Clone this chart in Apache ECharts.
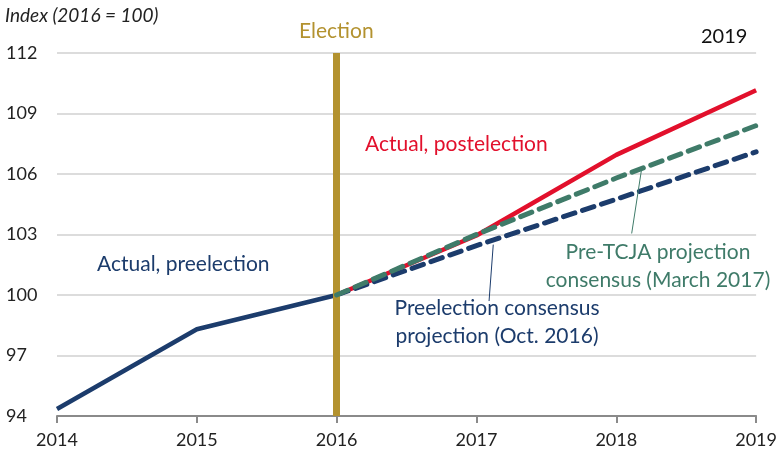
<!DOCTYPE html>
<html>
<head>
<meta charset="utf-8">
<script src="https://cdn.jsdelivr.net/npm/echarts@6/dist/echarts.min.js"></script>
<style>
  html, body { margin: 0; padding: 0; background: #fff; }
  #chart { width: 780px; height: 457px; }
</style>
</head>
<body>
<div id="chart"></div>
<script>
// years on the x axis
const years = [2014, 2015, 2016, 2017, 2018, 2019]
const yTicks = [94, 97, 100, 103, 106, 109, 112]

// index values (2016 = 100)
const actualPre = [94.35, 98.3, 100]
const actualPost = [100, 102.95, 106.95, 110.15]
const preTcja = [100, 103, 105.8, 108.4]
const preElection = [100, 102.45, 104.75, 107.1]

const electionYear = 2016

const navy = '#1c3c6c'
const red = '#e2102c'
const green = '#3f7b69'
const gold = '#b3922f'
const font = 'Lato, "Noto Sans", sans-serif'

const pairs = (xs, vals) => vals.map((v, i) => [xs[i], v])

// annotation text, positioned by its anchor point
const note = (text, x, y, color, size, align) => ({
  type: 'text',
  x: x,
  y: y,
  style: {
    text: text,
    fontFamily: font,
    fontSize: size,
    lineHeight: 28,
    fill: color,
    align: align || 'left',
    verticalAlign: 'top'
  }
})

const chart = echarts.init(document.getElementById('chart'))

chart.setOption({
  animation: false,
  textStyle: { fontFamily: font },
  grid: { left: 57, right: 22, top: 53, bottom: 41 },
  xAxis: {
    type: 'value',
    min: years[0],
    max: years[years.length - 1],
    interval: 1,
    axisLine: { lineStyle: { color: '#8a8a8a', width: 2 } },
    axisTick: { show: true, length: 7, lineStyle: { color: '#8a8a8a', width: 2 } },
    splitLine: { show: false },
    axisLabel: {
      color: '#222',
      fontSize: 18,
      margin: 15,
      formatter: v => String(v)
    }
  },
  yAxis: {
    type: 'value',
    min: yTicks[0],
    max: yTicks[yTicks.length - 1],
    interval: 3,
    axisLine: { show: false },
    axisTick: { show: false },
    splitLine: { lineStyle: { color: '#dcdcdc', width: 2 } },
    axisLabel: { color: '#222', fontSize: 18, align: 'left', margin: 51 }
  },
  series: [
    {
      name: 'Actual, preelection',
      type: 'line',
      data: pairs(years, actualPre),
      symbol: 'none',
      lineStyle: { color: navy, width: 4.5 },
      z: 3
    },
    {
      name: 'Actual, postelection',
      type: 'line',
      data: pairs(years.slice(2), actualPost),
      symbol: 'none',
      lineStyle: { color: red, width: 4.5 },
      z: 3
    },
    {
      name: 'Preelection consensus projection',
      type: 'line',
      data: pairs(years.slice(2), preElection),
      symbol: 'none',
      lineStyle: { color: navy, width: 5, type: [12, 8], cap: 'round' },
      z: 4,
      markLine: {
        silent: true,
        symbol: 'none',
        label: { show: false },
        lineStyle: { color: navy, width: 1, type: 'solid' },
        data: [[{ coord: [2017.09, 99.7] }, { coord: [2017.12, 102.5] }]]
      }
    },
    {
      name: 'Pre-TCJA projection consensus',
      type: 'line',
      data: pairs(years.slice(2), preTcja),
      symbol: 'none',
      lineStyle: { color: green, width: 5, type: [12, 8], cap: 'round' },
      z: 5,
      markLine: {
        silent: true,
        symbol: 'none',
        label: { show: false },
        lineStyle: { color: green, width: 1, type: 'solid' },
        data: [[{ coord: [2018.11, 103.05] }, { coord: [2018.18, 106.2] }]]
      }
    },
    {
      name: 'Election',
      type: 'line',
      data: [],
      z: 6,
      markLine: {
        silent: true,
        symbol: 'none',
        label: { show: false },
        lineStyle: { color: gold, width: 7, type: 'solid' },
        data: [{ xAxis: electionYear }]
      }
    }
  ],
  graphic: [
    {
      type: 'text', x: 5, y: 6,
      style: { text: 'Index (2016 = 100)', fontFamily: font, fontSize: 19, fontStyle: 'italic', fill: '#222' }
    },
    note('2019', 701, 23, '#111', 20),
    note('Election', 299, 17, gold, 21),
    note('Actual, postelection', 365, 130, red, 21),
    note('Actual, preelection', 97, 250, navy, 21),
    note('Pre-TCJA projection\nconsensus (March 2017)', 658, 238, green, 21, 'center'),
    note('Preelection consensus\nprojection (Oct. 2016)', 497, 294, navy, 21, 'center')
  ]
})
</script>
</body>
</html>
